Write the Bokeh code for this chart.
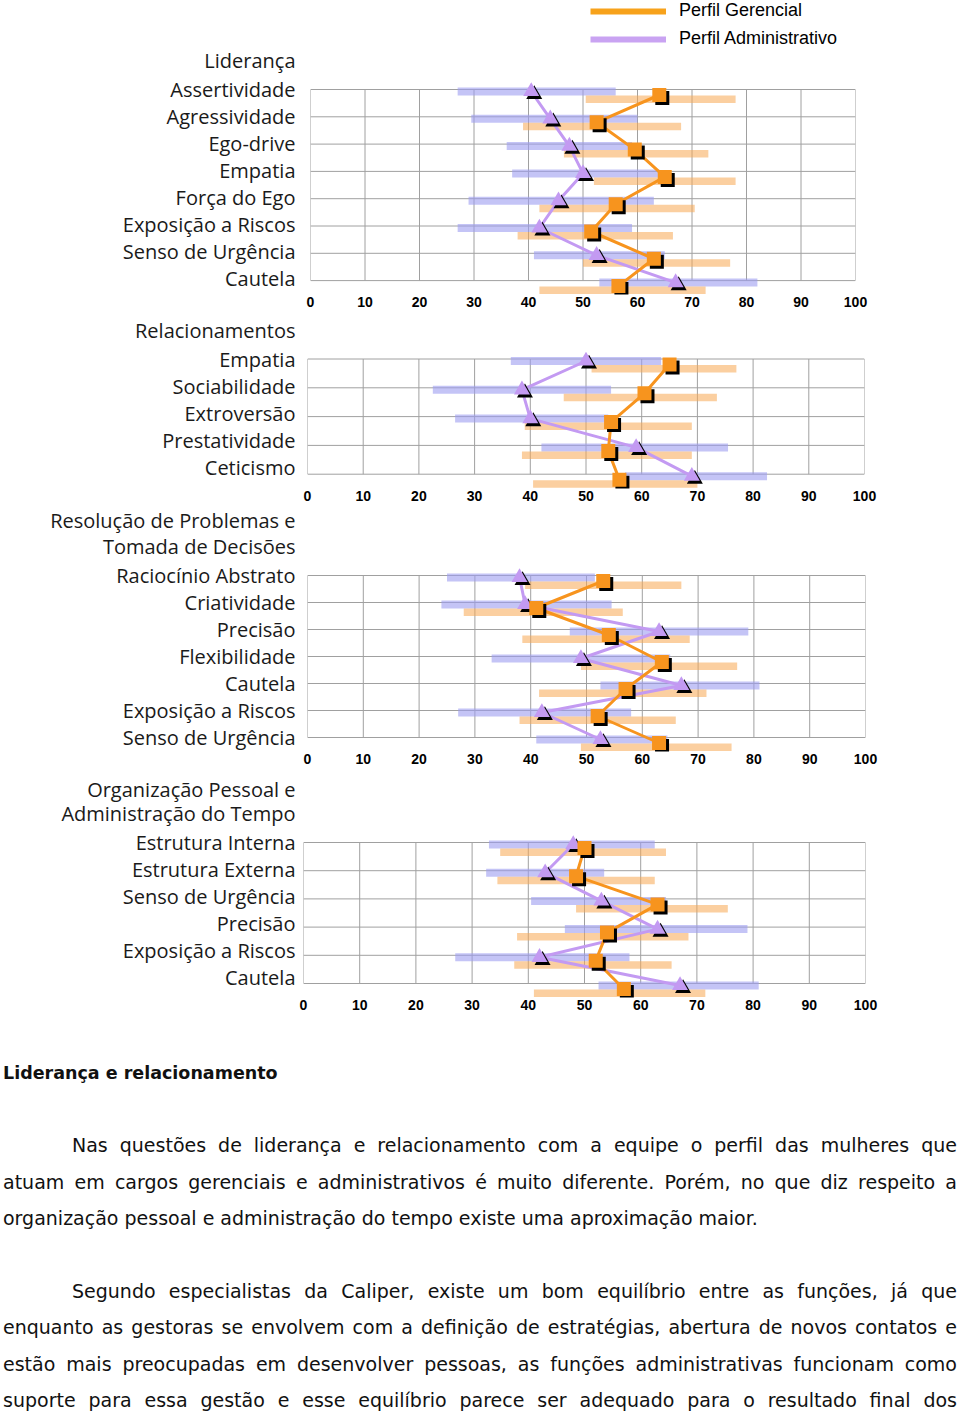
from bokeh.plotting import figure
from bokeh.models import Range1d, FixedTicker, Legend, LegendItem, Div
from bokeh.layouts import column
from bokeh.embed import file_html
from bokeh.resources import INLINE

# ---------------- data ----------------
legend_labels = ["Perfil Gerencial", "Perfil Administrativo"]
x_ticks = [0, 10, 20, 30, 40, 50, 60, 70, 80, 90, 100]

lid_headers = ["Liderança"]
lid_cats = ["Assertividade", "Agressividade", "Ego-drive", "Empatia", "Força do Ego",
            "Exposição a Riscos", "Senso de Urgência", "Cautela"]
lid_adm_lo = [27, 29.5, 36, 37, 29, 27, 41, 53]
lid_adm_hi = [56, 60, 59, 64, 63, 59, 65, 82]
lid_ger_lo = [50.5, 39, 46.5, 52, 42, 38, 50, 42]
lid_ger_hi = [78, 68, 73, 78, 70.5, 66.5, 77, 72.5]
lid_adm = [40.5, 44, 47.5, 50, 45.5, 42, 52.5, 67]
lid_ger = [64, 52.5, 59.5, 65, 56, 51.5, 63, 56.5]

rel_headers = ["Relacionamentos"]
rel_cats = ["Empatia", "Sociabilidade", "Extroversão", "Prestatividade", "Ceticismo"]
rel_adm_lo = [36.5, 22.5, 26.5, 42, 57]
rel_adm_hi = [63.5, 54.5, 54, 75.5, 82.5]
rel_ger_lo = [51, 46, 39, 38.5, 40.5]
rel_ger_hi = [77, 73.5, 69, 69, 70]
rel_adm = [50, 38.5, 40, 59, 69]
rel_ger = [65, 60.5, 54.5, 54, 56]

res_headers = ["Resolução de Problemas e", "Tomada de Decisões"]
res_cats = ["Raciocínio Abstrato", "Criatividade", "Precisão", "Flexibilidade", "Cautela",
            "Exposição a Riscos", "Senso de Urgência"]
res_adm_lo = [25, 24, 47, 33, 52.5, 27, 41]
res_adm_hi = [51.5, 54.5, 79, 65, 81, 58, 64.5]
res_ger_lo = [39, 28, 38.5, 49, 41.5, 38, 49]
res_ger_hi = [67, 56.5, 68.5, 77, 71.5, 66, 76]
res_adm = [38, 39, 63, 49, 67, 42, 52.5]
res_ger = [53, 41, 54, 63.5, 57, 52, 63]

org_headers = ["Organização Pessoal e", "Administração do Tempo"]
org_cats = ["Estrutura Interna", "Estrutura Externa", "Senso de Urgência", "Precisão",
            "Exposição a Riscos", "Cautela"]
org_adm_lo = [33, 32.5, 40.5, 46.5, 27, 52.5]
org_adm_hi = [62.5, 53.5, 64.5, 79, 58, 81]
org_ger_lo = [35, 34.5, 48.5, 38, 37.5, 41]
org_ger_hi = [64.5, 62.5, 75.5, 68.5, 65.5, 71.5]
org_adm = [48, 43, 53, 63, 42, 67]
org_ger = [50, 48.5, 63, 54, 52, 57]

heading = "Liderança e relacionamento"
par1 = ["Nas questões de liderança e relacionamento com a equipe o perfil das mulheres que",
        "atuam em cargos gerenciais e administrativos é muito diferente. Porém, no que diz respeito a",
        "organização pessoal e administração do tempo existe uma aproximação maior."]
par2 = ["Segundo especialistas da Caliper, existe um bom equilíbrio entre as funções, já que",
        "enquanto as gestoras se envolvem com a definição de estratégias, abertura de novos contatos e",
        "estão mais preocupadas em desenvolver pessoas, as funções administrativas funcionam como",
        "suporte para essa gestão e esse equilíbrio parece ser adequado para o resultado final dos"]

# ---------------- style ----------------
ORANGE = "#f7941e"
LAV = "#c39af2"
ORANGE_BAR = "#f8a752"
LAV_BAR = "#9c9cf0"
GRID = "#a0a0a0"
LABEL_FONT = "Open Sans"
LABEL_STEP = 27
PAD_BOT = 14
PAGE_W = 960


def panel(headers, cats, adm_lo, adm_hi, ger_lo, ger_hi, adm, ger, *,
          fig_top, fig_bottom, row0, step, x0, x1, legend=False):
    n = len(cats)
    frame_top = fig_top
    frame_bottom = round(row0 + (n - 1) * step + PAD_BOT)
    fw = x1 - x0
    fh = frame_bottom - frame_top
    p = figure(frame_width=fw, frame_height=fh,
               min_border_left=x0, min_border_right=PAGE_W - x1,
               min_border_top=0, min_border_bottom=fig_bottom - frame_bottom,
               x_range=Range1d(0, 100),
               y_range=Range1d(frame_bottom - row0, frame_top - row0),
               output_backend="svg", toolbar_location=None, title=None,
               frame_align=False)
    p.outline_line_color = None
    p.xgrid.visible = False
    p.ygrid.visible = False
    p.background_fill_color = "white"
    p.border_fill_color = "white"

    rows = [i * step for i in range(n)]
    last = rows[-1]

    # grid box drawn from ticks and rows
    p.segment(x0=x_ticks, x1=x_ticks, y0=[0] * len(x_ticks), y1=[last] * len(x_ticks),
              line_color=GRID, line_width=1)
    p.segment(x0=[0] * n, x1=[100] * n, y0=rows, y1=rows, line_color=GRID, line_width=1)

    # range bars
    p.hbar(y=[r + 2 for r in rows], left=adm_lo, right=adm_hi, height=8,
           fill_color=LAV_BAR, fill_alpha=0.6, line_color=None)
    p.hbar(y=[r + 9.75 for r in rows], left=ger_lo, right=ger_hi, height=7.5,
           fill_color=ORANGE_BAR, fill_alpha=0.55, line_color=None)

    dx = 3 * 100.0 / fw
    ty = [r + 2 for r in rows]
    sy = [r + 5.5 for r in rows]
    p.line(x=adm, y=ty, line_color=LAV, line_width=3)
    p.scatter(x=[v + dx for v in adm], y=[y + 3 for y in ty], marker="triangle", size=16,
              fill_color="black", line_color=None)
    p.scatter(x=adm, y=ty, marker="triangle", size=16, fill_color=LAV, line_color=None)
    p.line(x=ger, y=sy, line_color=ORANGE, line_width=3)
    p.scatter(x=[v + dx for v in ger], y=[y + 3 for y in sy], marker="square", size=14,
              fill_color="black", line_color=None)
    p.scatter(x=ger, y=sy, marker="square", size=14, fill_color=ORANGE, line_color=None)

    # axes
    xa = p.xaxis[0]
    xa.ticker = FixedTicker(ticks=x_ticks)
    xa.axis_line_color = None
    xa.major_tick_line_color = None
    xa.minor_tick_line_color = None
    xa.major_tick_out = 0
    xa.major_tick_in = 0
    xa.major_label_standoff = 2
    xa.major_label_text_font = "Liberation Sans"
    xa.major_label_text_font_style = "bold"
    xa.major_label_text_font_size = "14px"
    xa.major_label_text_color = "black"

    ticks = [i * LABEL_STEP for i in range(n)]
    over = {i * LABEL_STEP: c for i, c in enumerate(cats)}
    for k, h in enumerate(reversed(headers)):
        t = -(k + 1) * LABEL_STEP - 2
        ticks.append(t)
        over[t] = h
    ya = p.yaxis[0]
    ya.ticker = FixedTicker(ticks=sorted(ticks))
    ya.major_label_overrides = over
    ya.axis_line_color = None
    ya.major_tick_line_color = None
    ya.minor_tick_line_color = None
    ya.major_tick_out = 0
    ya.major_tick_in = 0
    ya.major_label_standoff = x0 - 295
    ya.major_label_text_font = LABEL_FONT
    ya.major_label_text_font_size = "20px"
    ya.major_label_text_color = "#1a1a1a"

    if legend:
        nan = float("nan")
        r1 = p.line(x=[nan, nan], y=[nan, nan], line_color="#f7a21b", line_width=6)
        r2 = p.line(x=[nan, nan], y=[nan, nan], line_color="#c9a3f2", line_width=6)
        leg = Legend(items=[LegendItem(label=legend_labels[0], renderers=[r1]),
                            LegendItem(label=legend_labels[1], renderers=[r2])],
                     location=(590 - x0, fh - 49),
                     glyph_width=76, glyph_height=20, label_height=20,
                     label_standoff=13, spacing=7, padding=0, margin=0,
                     label_text_font="Liberation Sans", label_text_font_size="18px",
                     label_text_color="black",
                     border_line_color=None, background_fill_alpha=0)
        p.add_layout(leg)
    return p


p1 = panel(lid_headers, lid_cats, lid_adm_lo, lid_adm_hi, lid_ger_lo, lid_ger_hi, lid_adm, lid_ger,
           fig_top=0, fig_bottom=316, row0=89, step=27.3, x0=310, x1=855, legend=True)
p2 = panel(rel_headers, rel_cats, rel_adm_lo, rel_adm_hi, rel_ger_lo, rel_ger_hi, rel_adm, rel_ger,
           fig_top=316, fig_bottom=506, row0=358.5, step=28.8, x0=307, x1=864)
p3 = panel(res_headers, res_cats, res_adm_lo, res_adm_hi, res_ger_lo, res_ger_hi, res_adm, res_ger,
           fig_top=506, fig_bottom=775, row0=575, step=27, x0=307, x1=865)
p4 = panel(org_headers, org_cats, org_adm_lo, org_adm_hi, org_ger_lo, org_ger_hi, org_adm, org_ger,
           fig_top=775, fig_bottom=1020, row0=842, step=28.2, x0=303, x1=865)

# ---------------- text ----------------
def line_html(t, indent=False, last=False, extra=""):
    st = "text-align:justify;text-align-last:%s;%s%s" % (
        "left" if last else "justify", "text-indent:69px;" if indent else "", extra)
    return '<div style="%s">%s</div>' % (st, t)

blank = '<div style="height:36.4px"></div>'
body = []
body.append('<div style="font-weight:bold;font-size:17.5px;">%s</div>' % heading)
body.append(blank)
for i, t in enumerate(par1):
    body.append(line_html(t, indent=(i == 0), last=(i == len(par1) - 1)))
body.append(blank)
for i, t in enumerate(par2):
    if i == len(par2) - 1:
        body.append(line_html(t, indent=(i == 0), extra="line-height:10px;margin-top:13.2px;"))
    else:
        body.append(line_html(t, indent=(i == 0)))

html = ('<div style="font-family:\'DejaVu Sans\';font-size:19px;line-height:36.4px;color:#111;'
        'margin-left:-2px;width:954px;padding-top:29.5px;">' + "".join(body) + '</div>')
txt = Div(text=html, width=950, height=370, styles={"overflow": "visible"})

layout = column(p1, p2, p3, p4, txt, spacing=0)
open("out.html", "w").write(file_html(layout, INLINE))
